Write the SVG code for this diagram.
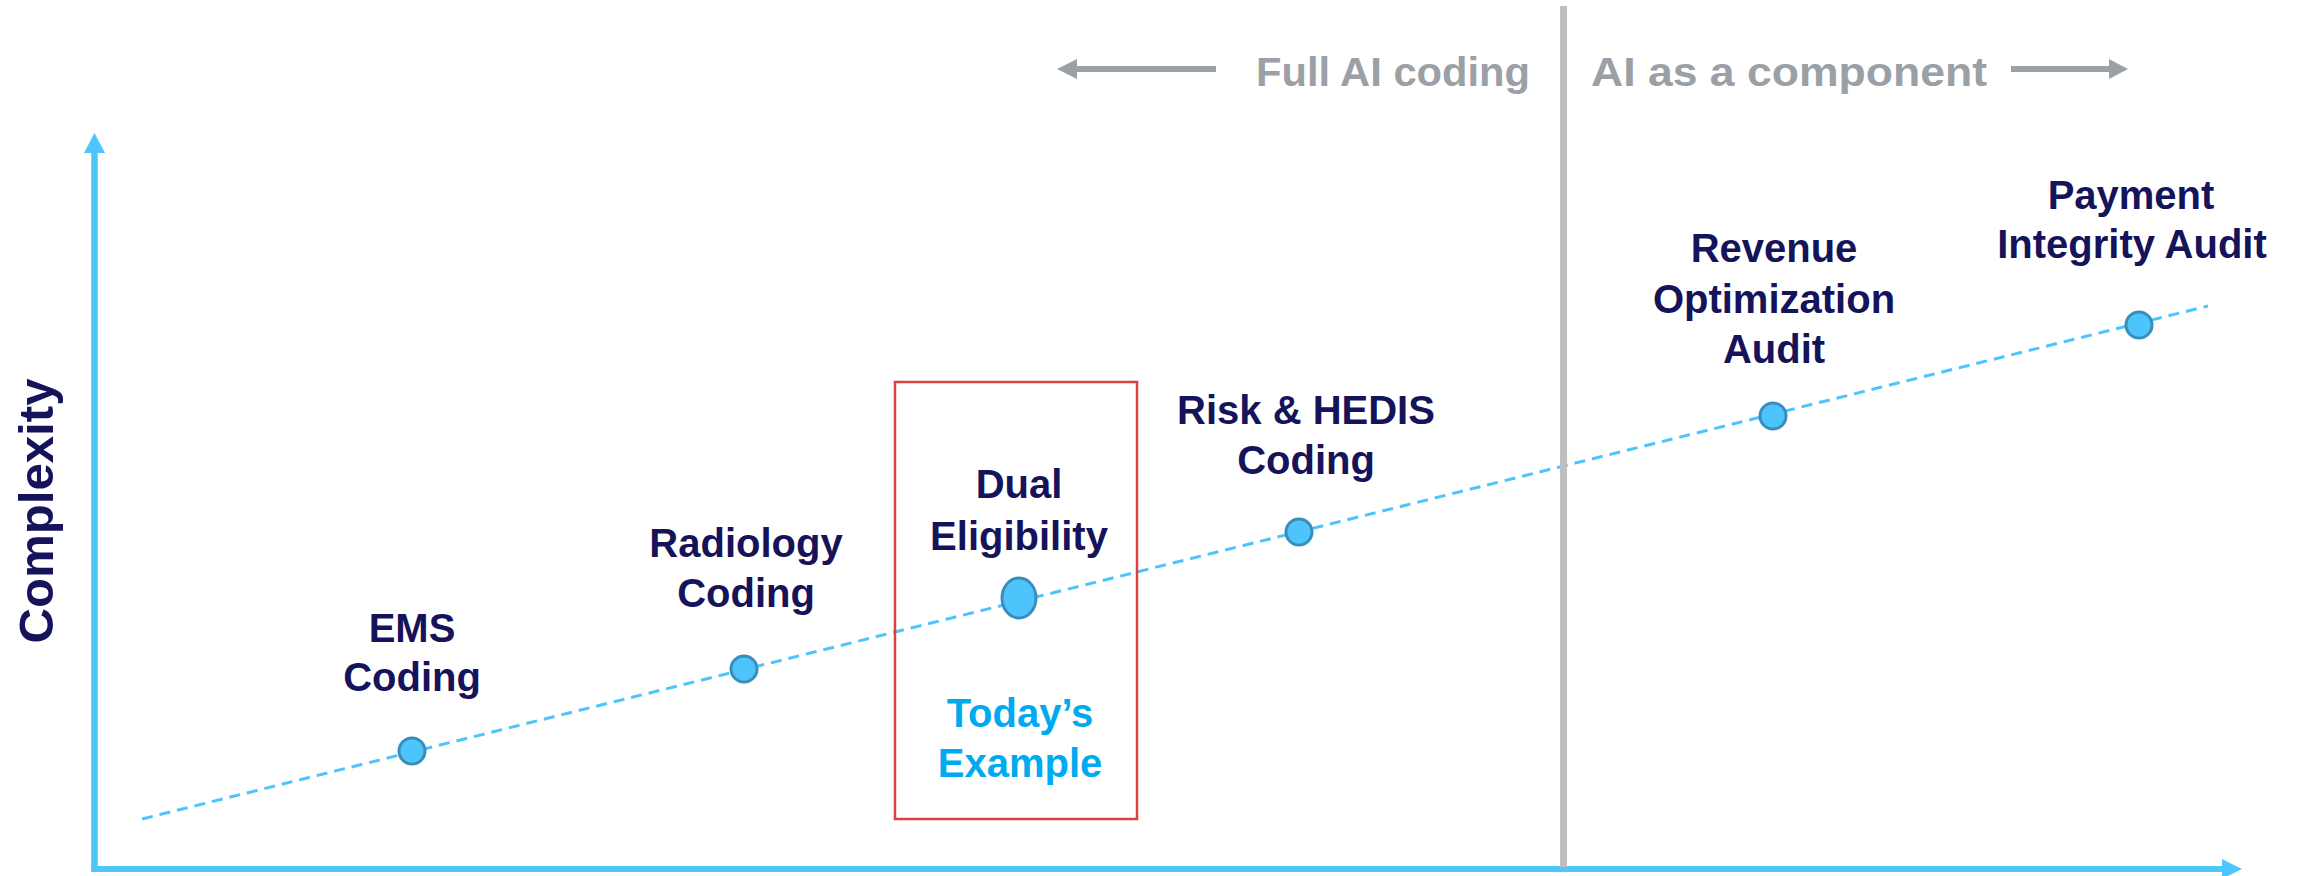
<svg xmlns="http://www.w3.org/2000/svg" width="2304" height="876" viewBox="0 0 2304 876">
<style>
.lbl{font-family:"Liberation Sans",Arial,sans-serif;font-weight:bold;font-size:40px;fill:#15135a;text-anchor:middle}
.today{font-family:"Liberation Sans",Arial,sans-serif;font-weight:bold;font-size:40px;fill:#00aaf0;text-anchor:middle}
.top{font-family:"Liberation Sans",Arial,sans-serif;font-weight:bold;font-size:40px;fill:#9aa0a6}
.pt{fill:#4dc5fc;stroke:#3a8dbb;stroke-width:3}
.axis{stroke:#4dc6fc;fill:none}
</style>
<rect width="2304" height="876" fill="#ffffff"/>
<g id="connectors">
  <line x1="142" y1="819" x2="2208" y2="306" stroke="#4dc5fc" stroke-width="3" stroke-dasharray="11 7"/>
</g>
<g id="axes">
  <line class="axis" x1="94.5" y1="150" x2="94.5" y2="872" stroke-width="6.5"/>
  <polygon points="94.5,133 84,153 105,153" fill="#4dc6fc"/>
  <line class="axis" x1="91.5" y1="869" x2="2224" y2="869" stroke-width="6"/>
  <polygon points="2242,869 2222,859 2222,879" fill="#4dc6fc"/>
  <text class="lbl" transform="translate(53,511) rotate(-90)" font-size="48" style="font-size:48px" textLength="265" lengthAdjust="spacingAndGlyphs">Complexity</text>
</g>
<g id="divider">
  <rect x="1560" y="6" width="7" height="861" fill="#bfbfbf"/>
  <line x1="1076" y1="69" x2="1216" y2="69" stroke="#9aa0a6" stroke-width="6"/>
  <polygon points="1057,69 1077,59 1077,79" fill="#9aa0a6"/>
  <text class="top" x="1256" y="86" textLength="274" lengthAdjust="spacingAndGlyphs">Full AI coding</text>
  <text class="top" x="1591" y="86" textLength="396" lengthAdjust="spacingAndGlyphs">AI as a component</text>
  <line x1="2011" y1="69" x2="2110" y2="69" stroke="#9aa0a6" stroke-width="6"/>
  <polygon points="2128,69 2109,59 2109,79" fill="#9aa0a6"/>
</g>
<g id="ems">
  <circle class="pt" cx="412" cy="751" r="13"/>
  <text class="lbl" x="412" y="642">EMS</text>
  <text class="lbl" x="412" y="691">Coding</text>
</g>
<g id="radiology">
  <circle class="pt" cx="744" cy="669" r="13"/>
  <text class="lbl" x="746" y="557">Radiology</text>
  <text class="lbl" x="746" y="607">Coding</text>
</g>
<g id="dual">
  <rect x="895" y="382" width="242" height="437" fill="none" stroke="#dc4040" stroke-width="2.5"/>
  <ellipse class="pt" cx="1019" cy="598" rx="17" ry="20"/>
  <text class="lbl" x="1019" y="498">Dual</text>
  <text class="lbl" x="1019" y="550">Eligibility</text>
  <text class="today" x="1020" y="727">Today’s</text>
  <text class="today" x="1020" y="777">Example</text>
</g>
<g id="risk">
  <circle class="pt" cx="1299" cy="532" r="13"/>
  <text class="lbl" x="1306" y="424">Risk &amp; HEDIS</text>
  <text class="lbl" x="1306" y="474">Coding</text>
</g>
<g id="revenue">
  <circle class="pt" cx="1773" cy="416" r="13"/>
  <text class="lbl" x="1774" y="262">Revenue</text>
  <text class="lbl" x="1774" y="313">Optimization</text>
  <text class="lbl" x="1774" y="363">Audit</text>
</g>
<g id="payment">
  <circle class="pt" cx="2139" cy="325" r="13"/>
  <text class="lbl" x="2131" y="209">Payment</text>
  <text class="lbl" x="2132" y="258">Integrity Audit</text>
</g>
</svg>
